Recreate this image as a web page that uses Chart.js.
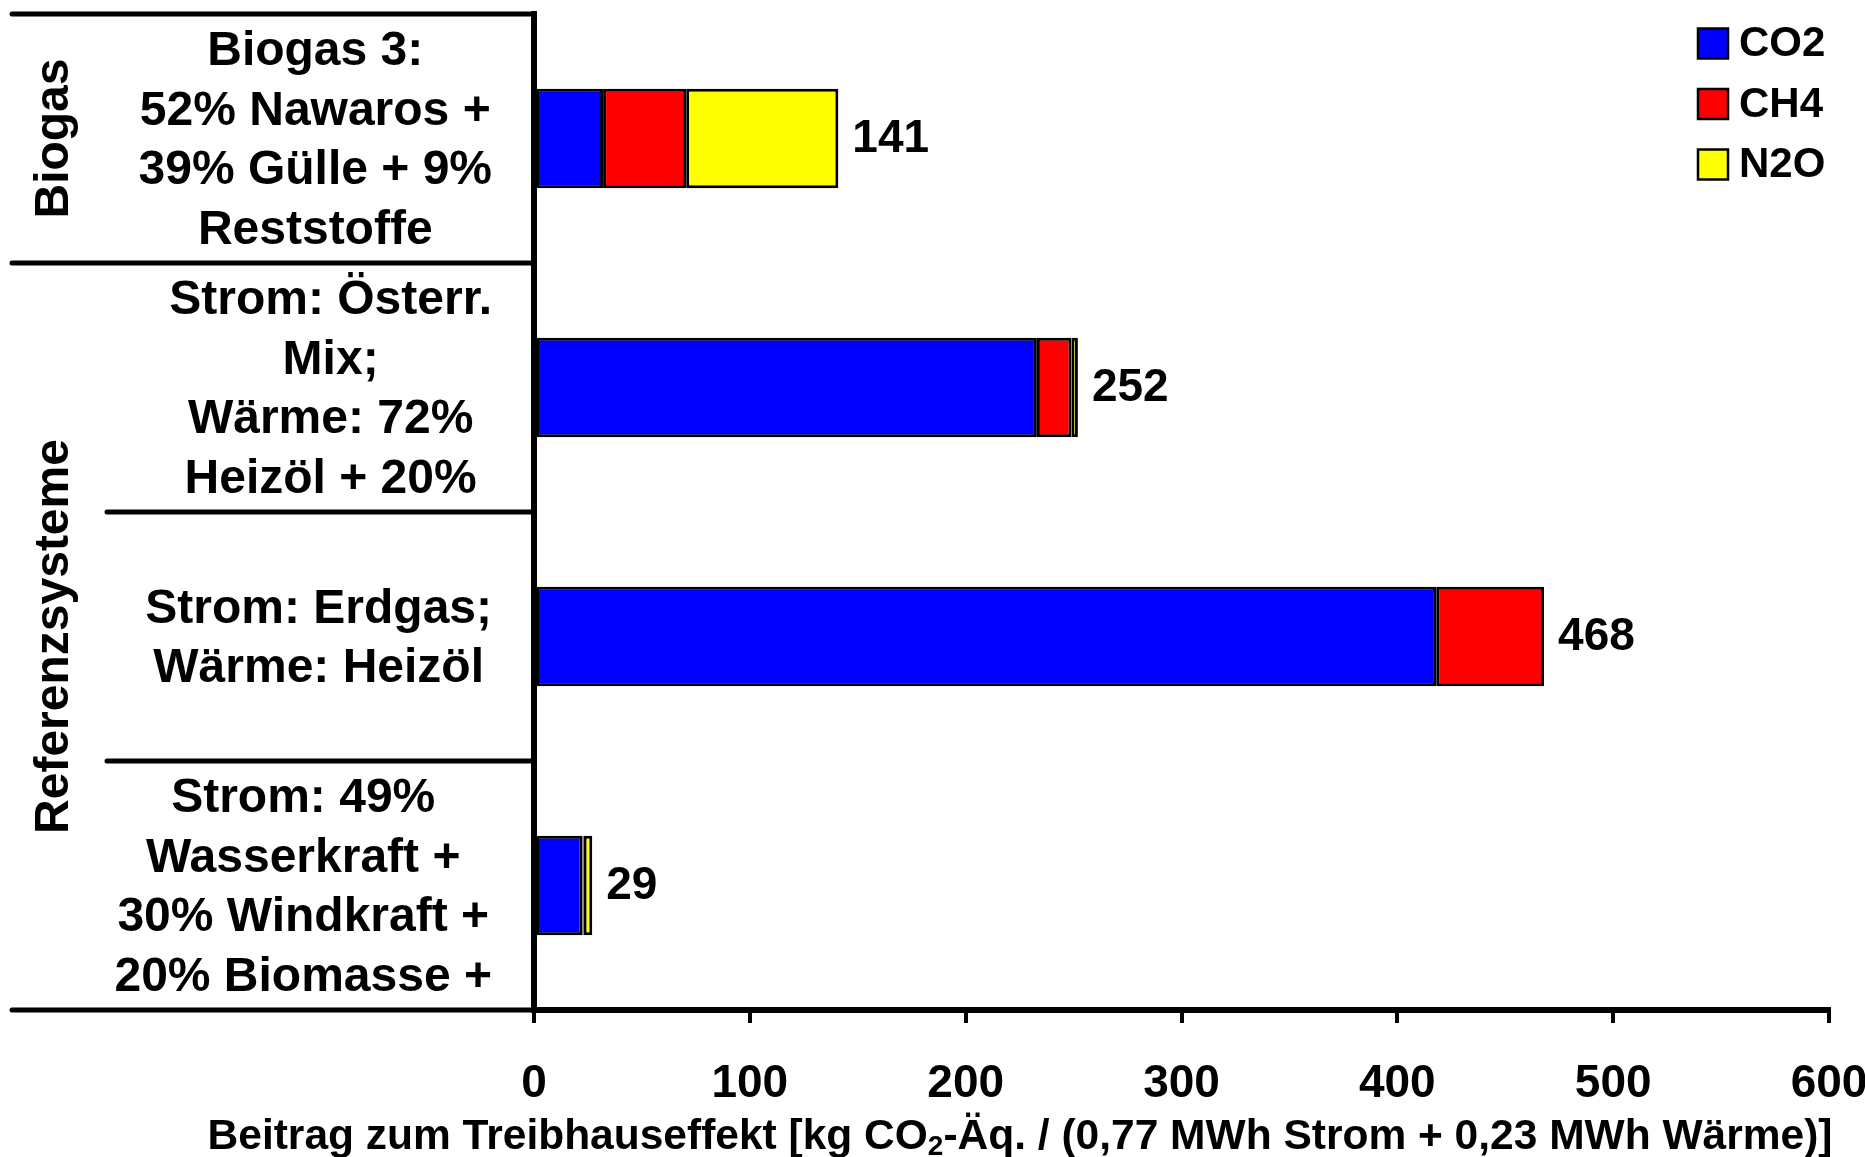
<!DOCTYPE html>
<html>
<head>
<meta charset="utf-8">
<script src="https://cdn.jsdelivr.net/npm/chart.js@4.4.1/dist/chart.umd.min.js"></script>
<style>
  html, body { margin: 0; padding: 0; background: #fff; }
  #wrap { width: 1865px; height: 1157px; }
</style>
</head>
<body>
<div id="wrap"><canvas id="chart" width="1865" height="1157"></canvas></div>
<script>
/* Beitrag zum Treibhauseffekt — Biogas vs. Referenzsysteme */

const FONT = '"Liberation Sans", Arial, Helvetica, sans-serif';
const BLUE = '#0000ff', RED = '#ff0000', YELLOW = '#ffff00', INK = '#000';

// Kategorien (mehrzeilig, wie im Original abgeschnitten)
const categories = [
  ['Biogas 3:', '52% Nawaros +', '39% Gülle + 9%', 'Reststoffe'],
  ['Strom: Österr.', 'Mix;', 'Wärme: 72%', 'Heizöl + 20%'],
  ['Strom: Erdgas;', 'Wärme: Heizöl'],
  ['Strom: 49%', 'Wasserkraft +', '30% Windkraft +', '20% Biomasse +'],
];
const groupNames = ['Biogas', 'Referenzsysteme'];
const groupSizes = [1, 3];

// kg CO2-Äq.
const seriesNames = ['CO2', 'CH4', 'N2O'];
const co2 = [32, 233, 418, 22.5];
const ch4 = [38.5, 16, 50, 0.5];
const n2o = [70.5, 3, 0, 4];
const totals = [141, 252, 468, 29];

const xMin = 0, xMax = 600, xStep = 100;

const font = (size) => `bold ${size}px ${FONT}`;

const decor = {
  id: 'decor',
  afterDraw(chart) {
    const { ctx, chartArea: ca } = chart;
    const y = chart.scales.y;
    const n = categories.length;
    ctx.save();
    ctx.fillStyle = INK;
    ctx.strokeStyle = INK;

    // Trennlinien links der Achse
    const bounds = [ca.top];
    for (let i = 1; i < n; i++) bounds.push((y.getPixelForValue(i - 1) + y.getPixelForValue(i)) / 2);
    bounds.push(ca.bottom);
    const groupEdges = [0];
    groupSizes.reduce((s, g) => { groupEdges.push(s + g); return s + g; }, 0);
    ctx.lineWidth = 5;
    ctx.lineCap = 'round';
    bounds.forEach((b, i) => {
      const left = groupEdges.includes(i) ? 12 : 107;
      ctx.beginPath(); ctx.moveTo(left, b); ctx.lineTo(ca.left, b); ctx.stroke();
    });

    // Gruppen (gedreht)
    ctx.font = font(48);
    ctx.textAlign = 'center';
    ctx.textBaseline = 'middle';
    groupNames.forEach((g, k) => {
      const cy = (bounds[groupEdges[k]] + bounds[groupEdges[k + 1]]) / 2;
      ctx.save();
      ctx.translate(55, cy);
      ctx.rotate(-Math.PI / 2);
      ctx.fillText(g, 0, 0);
      ctx.restore();
    });

    // Kategorie-Beschriftung: Block rechtsbündig, Zeilen zentriert
    const right = 492, lh = 59.5;
    categories.forEach((lines, i) => {
      const cy = y.getPixelForValue(i) + 3;
      const w = Math.max(...lines.map(l => ctx.measureText(l).width));
      const cx = right - w / 2;
      lines.forEach((l, k) => ctx.fillText(l, cx, cy + (k - (lines.length - 1) / 2) * lh));
    });

    // Summen am Balkenende
    const meta = chart.getDatasetMeta(chart.data.datasets.length - 1);
    ctx.font = font(46);
    ctx.textAlign = 'left';
    meta.data.forEach((el, i) => ctx.fillText(String(totals[i]), el.x + 14, el.y + 1));

    // Legende
    ctx.font = font(42);
    chart.data.datasets.forEach((d, k) => {
      const cy = 43.5 + k * 60.5;
      ctx.fillStyle = d.backgroundColor;
      ctx.fillRect(1698, cy - 15, 30, 30);
      ctx.lineWidth = 2.5;
      ctx.strokeRect(1698, cy - 15, 30, 30);
      ctx.fillStyle = INK;
      ctx.fillText(d.label, 1739, cy + 1);
    });

    // Achsentitel mit Index
    const parts = [
      ['Beitrag zum Treibhauseffekt [kg CO', 42.5, 0],
      ['2', 28, 10],
      ['-Äq. / (0,77 MWh Strom + 0,23 MWh Wärme)]', 42.5, 0],
    ];
    const widths = parts.map(([t, s]) => { ctx.font = font(s); return ctx.measureText(t).width; });
    let x = 1020 - widths.reduce((a, b) => a + b, 0) / 2;
    parts.forEach(([t, s, dy], k) => {
      ctx.font = font(s);
      ctx.fillText(t, x, 1137 + dy);
      x += widths[k];
    });
    ctx.restore();
  },
};

const bar = (label, data, color) => ({
  label, data, backgroundColor: color, borderColor: INK, borderWidth: 3, borderSkipped: false,
  categoryPercentage: 0.4, barPercentage: 1,
});

new Chart(document.getElementById('chart'), {
  type: 'bar',
  data: {
    labels: categories,
    datasets: [bar(seriesNames[0], co2, BLUE), bar(seriesNames[1], ch4, RED), bar(seriesNames[2], n2o, YELLOW)],
  },
  options: {
    indexAxis: 'y',
    responsive: false,
    devicePixelRatio: 1,
    animation: false,
    layout: { padding: { left: 534, right: 36, top: 14, bottom: 0 } },
    plugins: { legend: { display: false }, tooltip: { enabled: false } },
    scales: {
      x: {
        stacked: true, min: xMin, max: xMax,
        ticks: { stepSize: xStep, color: INK, font: { family: FONT, size: 46, weight: 'bold' }, padding: 34, maxRotation: 0 },
        grid: { drawOnChartArea: false, tickLength: 13, lineWidth: 4, color: INK },
        border: { width: 6, color: INK },
        afterFit: s => { s.height = 147; s.paddingLeft = 0; s.paddingRight = 0; },
      },
      y: {
        stacked: true,
        ticks: { display: false },
        grid: { drawOnChartArea: false, drawTicks: false, color: INK },
        border: { width: 6, color: INK },
        afterFit: s => { s.width = 0; },
      },
    },
  },
  plugins: [decor],
});
</script>
</body>
</html>
